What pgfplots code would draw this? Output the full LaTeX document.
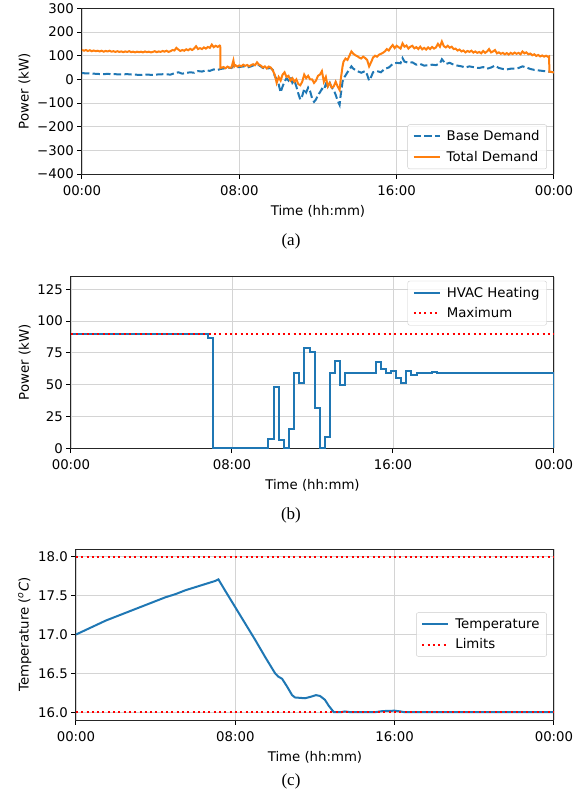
\documentclass[border=0pt]{standalone}
\usepackage{fontspec}
\setmainfont{DejaVu Sans}
\newfontfamily\capfont{Liberation Serif}
\usepackage{pgfplots}
\pgfplotsset{compat=1.18}

\definecolor{tabblue}{HTML}{1F77B4}
\definecolor{taborange}{HTML}{FF7F0E}

\pgfplotsset{
  mpl/.style={
    scale only axis,
    anchor=north west,
    xmin=0, xmax=24,
    xtick={0,8,16,24},
    xticklabels={00:00,08:00,16:00,00:00},
    tick align=outside,
    major tick length=4.7pt,
    xtick pos=left, ytick pos=left,
    every tick/.style={black, line width=1pt},
    axis line style={black!85, line width=1pt},
    grid=major,
    major grid style={draw=black!17, line width=0.9pt},
    tick label style={font=\fontsize{13.3}{16}\selectfont},
    label style={font=\fontsize{13.3}{16}\selectfont},
    xticklabel shift=3pt,
    xlabel style={yshift=-3pt},
    xlabel={Time (hh:mm)},
    legend cell align=left,
    legend style={font=\fontsize{13.3}{16}\selectfont, draw=black!20,
      rounded corners=2pt, fill=white, fill opacity=0.8, text opacity=1,
      inner xsep=5pt, inner ysep=4pt, row sep=5pt,
      /tikz/every odd column/.append style={column sep=4pt}},
    legend image code/.code={
      \draw[##1] (0pt,0pt) -- (26pt,0pt);},
  },
  limit/.style={red, line width=2pt, dash pattern=on 2pt off 3.3pt},
}

\begin{document}
\begin{tikzpicture}
\path (0,0) rectangle (582pt,-798pt);

% (a) demand
\begin{axis}[mpl,
  at={(82pt,-8.3pt)}, width=472pt, height=165.7pt,
  ymin=-400, ymax=300,
  ytick={-400,-300,-200,-100,0,100,200,300},
  yticklabels={−400,−300,−200,−100,0,100,200,300},
  ylabel={Power (kW)},
  legend style={at={(0.985,0.03)}, anchor=south east},
]
\addplot[tabblue, line width=2pt, dash pattern=on 7.4pt off 3.2pt] coordinates {
(0.0,27) (0.2,25) (0.4,26) (0.6,24) (0.8,23) (1.0,22) (1.3,23) (1.6,22)
(2.0,21) (2.3,22) (2.6,20) (3.0,19) (3.3,20) (3.6,19) (3.9,21) (4.2,22)
(4.5,20) (4.7,26) (4.9,30) (5.1,24) (5.3,27) (5.5,30) (5.7,28) (5.9,35)
(6.1,33) (6.3,38) (6.5,36) (6.7,42) (6.9,40) (7.05,44) (7.2,46) (7.4,50)
(7.6,48) (7.7,58) (7.8,52) (8.0,52) (8.2,55) (8.4,50) (8.6,55) (8.8,62)
(9.0,60) (9.2,48) (9.4,46) (9.6,48) (9.7,40) (9.8,15) (9.9,0) (10.0,-20)
(10.1,-55) (10.2,-30) (10.3,-10) (10.4,5) (10.5,-5) (10.6,10) (10.7,-15)
(10.8,-5) (10.9,-30) (11.0,-60) (11.1,-85) (11.2,-70) (11.3,-40) (11.4,-55)
(11.5,-35) (11.6,-50) (11.7,-80) (11.8,-95) (11.9,-85) (12.0,-65) (12.1,-55)
(12.2,-40) (12.3,-45) (12.4,-20) (12.5,-30) (12.6,-15) (12.7,-35) (12.8,-45)
(12.9,-65) (13.0,-90) (13.1,-108) (13.15,-70) (13.25,-10) (13.35,10)
(13.5,30) (13.7,55) (13.8,45) (13.9,40) (14.0,35) (14.2,28) (14.4,35)
(14.5,20) (14.6,-5) (14.7,10) (14.8,30) (15.0,35) (15.2,30) (15.4,45)
(15.6,50) (15.8,65) (16.0,70) (16.2,68) (16.3,90) (16.4,75) (16.6,70)
(16.8,72) (17.0,62) (17.2,65) (17.4,58) (17.6,60) (17.8,62) (18.0,60)
(18.2,68) (18.3,85) (18.5,65) (18.7,70) (18.9,62) (19.1,58) (19.3,55)
(19.5,50) (19.7,55) (20.0,50) (20.2,48) (20.4,52) (20.6,45) (20.8,50)
(21.0,58) (21.2,48) (21.4,44) (21.6,42) (21.8,45) (22.0,46) (22.2,48)
(22.4,55) (22.6,50) (22.8,44) (23.0,40) (23.2,38) (23.4,36) (23.6,34)
(23.8,32) (24.0,30)
};
\addlegendentry{Base Demand}
\addplot[taborange, line width=2pt] coordinates {
(0.0,125) (0.1,121) (0.2,124) (0.3,120) (0.4,123) (0.5,119) (0.6,122)
(0.7,119) (0.8,121) (0.9,118) (1.0,121) (1.1,117) (1.2,120) (1.3,118)
(1.4,121) (1.5,117) (1.6,119) (1.7,116) (1.8,119) (1.9,116) (2.0,118)
(2.1,115) (2.2,118) (2.3,116) (2.4,119) (2.5,115) (2.6,117) (2.7,114)
(2.8,117) (2.9,115) (3.0,117) (3.1,114) (3.2,118) (3.3,115) (3.4,117)
(3.5,114) (3.6,116) (3.7,119) (3.8,115) (3.9,118) (4.0,116) (4.1,120)
(4.2,117) (4.3,121) (4.4,116) (4.5,119) (4.6,124) (4.7,122) (4.8,133)
(4.9,126) (5.0,120) (5.1,124) (5.2,121) (5.3,127) (5.4,123) (5.5,129)
(5.6,124) (5.7,130) (5.8,140) (5.9,128) (6.0,132) (6.1,128) (6.2,135)
(6.3,130) (6.4,137) (6.5,133) (6.6,147) (6.7,136) (6.8,142) (6.9,137)
(7.0,143) (7.03,141) (7.04,48)
(7.2,52) (7.3,47) (7.4,54) (7.5,49) (7.6,50) (7.7,80) (7.75,55) (7.8,60)
(7.9,54) (8.0,59) (8.1,55) (8.2,62) (8.3,57) (8.4,61) (8.5,55) (8.6,60)
(8.7,64) (8.8,60) (8.9,72) (9.0,62) (9.1,58) (9.2,50) (9.3,55) (9.4,46)
(9.5,54) (9.6,50) (9.7,38) (9.8,20) (9.9,-15) (10.0,10) (10.1,-5)
(10.2,20) (10.3,30) (10.4,10) (10.5,15) (10.6,-5) (10.7,5) (10.8,-10)
(10.9,0) (11.0,-20) (11.1,-25) (11.2,-10) (11.3,20) (11.4,5) (11.5,15)
(11.6,0) (11.7,0) (11.8,-15) (11.9,-5) (12.0,15) (12.1,20) (12.2,35)
(12.3,-10) (12.4,10) (12.5,-30) (12.6,-15) (12.7,-35) (12.8,-30)
(12.9,-10) (13.0,-30) (13.1,-45) (13.15,-5) (13.25,55) (13.3,75)
(13.4,88) (13.5,82) (13.6,100) (13.7,118) (13.8,108) (13.9,102) (14.0,98)
(14.1,92) (14.2,88) (14.3,96) (14.4,90) (14.5,82) (14.6,55) (14.7,72)
(14.8,92) (14.9,100) (15.0,96) (15.1,104) (15.2,108) (15.3,112) (15.4,118)
(15.5,128) (15.6,122) (15.7,135) (15.8,145) (15.9,132) (16.0,142)
(16.1,136) (16.2,130) (16.3,152) (16.4,138) (16.5,143) (16.6,130)
(16.7,138) (16.8,142) (16.9,131) (17.0,136) (17.1,128) (17.2,138)
(17.3,127) (17.4,133) (17.5,126) (17.6,135) (17.7,128) (17.8,137)
(17.9,130) (18.0,135) (18.1,150) (18.2,138) (18.3,160) (18.4,140)
(18.5,135) (18.6,142) (18.7,134) (18.8,138) (18.9,128) (19.0,130)
(19.1,122) (19.2,126) (19.3,118) (19.4,122) (19.5,114) (19.6,120)
(19.7,116) (19.8,121) (19.9,113) (20.0,118) (20.1,112) (20.2,116)
(20.3,110) (20.4,120) (20.5,112) (20.6,118) (20.7,128) (20.8,114)
(20.9,118) (21.0,124) (21.1,110) (21.2,114) (21.3,108) (21.4,112)
(21.5,106) (21.6,111) (21.7,105) (21.8,112) (21.9,107) (22.0,113)
(22.1,108) (22.2,112) (22.3,106) (22.4,118) (22.5,110) (22.6,114)
(22.7,106) (22.8,109) (22.9,102) (23.0,106) (23.1,99) (23.2,103)
(23.3,97) (23.4,101) (23.5,96) (23.6,100) (23.7,95) (23.75,97)
(23.77,32) (23.9,31) (24.0,29)
};
\addlegendentry{Total Demand}
\end{axis}

% (b) HVAC heating
\begin{axis}[mpl,
  at={(71pt,-276.5pt)}, width=483pt, height=171.8pt,
  ymin=0, ymax=135,
  ytick={0,25,50,75,100,125},
  yticklabels={0,25,50,75,100,125},
  ylabel={Power (kW)},
  legend style={at={(0.985,0.975)}, anchor=north east},
]
\addplot[tabblue, line width=2pt, const plot] table {
x y
0 90
6.80 87
7.04 0
9.80 7
10.08 48
10.34 6.5
10.57 0
10.83 15
11.08 59
11.35 51
11.60 79
11.86 76
12.12 32
12.37 0
12.62 9
12.87 59
13.13 68.5
13.37 50
13.63 59.5
15.15 68
15.39 62
15.65 59.5
15.91 61
16.17 55
16.42 51
16.66 60.5
16.92 58
17.18 59.5
17.93 60
18.20 59.5
24.0 59.5
24.0 0
};
\addlegendentry{HVAC Heating}
\addplot[limit] table {
x y
0 90
24 90
};
\addlegendentry{Maximum}
\end{axis}

% (c) temperature
\begin{axis}[mpl,
  at={(76pt,-549pt)}, width=478pt, height=171pt,
  ymin=15.9, ymax=18.1,
  ytick={16,16.5,17,17.5,18},
  yticklabels={16.0,16.5,17.0,17.5,18.0},
  ylabel={Temperature ({\itshape\textsuperscript{o}C})},
  legend style={at={(0.985,0.5)}, anchor=east},
]
\addplot[tabblue, line width=2pt] table {
x y
0 17.00
0.5 17.06
1 17.12
1.5 17.18
2 17.23
2.5 17.28
3 17.33
3.5 17.38
4 17.43
4.5 17.48
5 17.52
5.5 17.57
6 17.61
6.5 17.65
7.0 17.69
7.15 17.71
7.5 17.56
8.0 17.35
8.5 17.14
9.0 16.93
9.5 16.71
10.0 16.50
10.15 16.46
10.35 16.43
10.6 16.33
10.85 16.22
11.0 16.19
11.5 16.18
11.8 16.20
12.05 16.22
12.25 16.21
12.5 16.16
12.7 16.08
12.95 16.00
13.3 16.00
13.5 16.01
13.8 16.00
15.0 16.00
15.4 16.015
16.0 16.02
16.3 16.01
16.5 16.00
24.0 16.00
};
\addlegendentry{Temperature}
\addplot[limit] table {
x y
0 16
24 16
};
\addlegendentry{Limits}
\addplot[limit, forget plot] table {
x y
0 18
24 18
};
\end{axis}

\node[font=\capfont\fontsize{17}{20}\selectfont] at (291pt,-241pt) {(a)};
\node[font=\capfont\fontsize{17}{20}\selectfont] at (291pt,-515pt) {(b)};
\node[font=\capfont\fontsize{17}{20}\selectfont] at (291pt,-781pt) {(c)};
\end{tikzpicture}
\end{document}
